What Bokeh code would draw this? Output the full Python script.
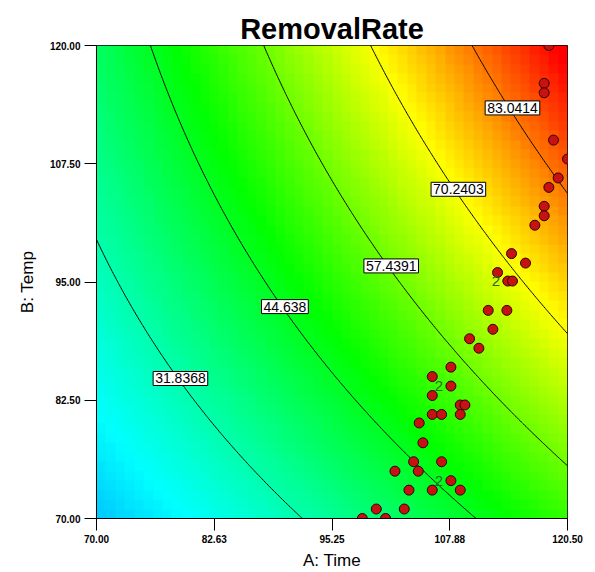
import numpy as np
from bokeh.plotting import figure
from bokeh.models import (Range1d, LinearColorMapper, Label, FixedTicker,
                          CustomJSTickFormatter)
from bokeh.embed import file_html
from bokeh.resources import INLINE
from bokeh.core.properties import value

# ---------------- data ----------------
title_text = "RemovalRate"
x_title = "A: Time"
y_title = "B: Temp"

x_ticks = [70.0, 82.625, 95.25, 107.875, 120.5]
x_tick_labels = ["70.00", "82.63", "95.25", "107.88", "120.50"]
y_ticks = [70.0, 82.5, 95.0, 107.5, 120.0]
y_tick_labels = ["70.00", "82.50", "95.00", "107.50", "120.00"]

contour_levels = [31.8368, 44.638, 57.4391, 70.2403, 83.0414]
contour_texts = ["31.8368", "44.638", "57.4391", "70.2403", "83.0414"]

# points (Time, Temp, level)
c_time = [70.0, 79.0, 91.9,
          75.9, 80.1, 90.2, 97.2, 103.3, 110.6,
          87.9, 96.2, 101.6, 111.2, 120.5,
          99.4, 108.8, 114.7, 120.5,
          110.1, 111.9, 114.6, 120.5]
c_temp = [99.3, 84.8, 70.0,
          120.0, 108.9, 92.4, 82.7, 76.8, 70.0,
          120.0, 103.6, 96.7, 84.9, 75.9,
          120.0, 104.8, 95.5, 89.2,
          120.0, 117.0, 113.4, 104.4]
c_value = [31.8368] * 3 + [44.638] * 6 + [57.4391] * 5 + [70.2403] * 4 + [83.0414] * 4

# where the contour labels sit
label_time = [79.0, 90.2, 101.6, 108.8, 114.6]
label_temp = [84.8, 92.4, 96.7, 104.8, 113.4]

# design points
pt_time = [118.5, 118.0, 118.0, 119.0, 120.5, 119.5, 118.5, 118.0, 118.0, 117.0,
           114.5, 116.0, 113.0, 114.1, 114.6, 112.0, 114.0, 112.5, 110.0, 111.0,
           108.0, 106.0, 108.0, 106.0, 109.0, 109.5, 109.0, 106.0, 107.0, 104.6,
           105.0, 104.0, 107.0, 102.0, 104.5, 108.0, 103.5, 106.0, 109.0, 100.0,
           103.0, 98.5, 101.0]
pt_temp = [120.0, 116.0, 115.0, 110.0, 108.0, 106.0, 105.0, 103.0, 102.0, 101.0,
           98.0, 97.0, 96.0, 95.1, 95.1, 92.0, 92.0, 90.0, 89.0, 88.0,
           86.0, 85.0, 84.0, 83.0, 82.0, 82.0, 81.0, 81.0, 81.0, 80.1,
           78.0, 76.0, 76.0, 75.0, 75.0, 74.0, 73.0, 73.0, 73.0, 71.0,
           71.0, 70.0, 70.0]

# replicated points
rep_time = [114.1, 108.0, 108.0]
rep_temp = [95.1, 84.0, 74.0]
rep_count = ["2", "2", "2"]

# ---------------- quadratic response surface fitted to contour points ----------------
def coded(t, b):
    return (np.asarray(t, float) - 95.25) / 25.25, (np.asarray(b, float) - 95.0) / 25.0

def design(a, b):
    return np.column_stack([np.ones_like(a), a, b, a * b, a * a, b * b])

ca, cb = coded(c_time, c_temp)
coef, *_ = np.linalg.lstsq(design(ca, cb), np.asarray(c_value), rcond=None)

def surface(t, b):
    a, bb = coded(t, b)
    shp = np.shape(a)
    return (design(a.ravel(), bb.ravel()) @ coef).reshape(shp)

X0, X1, Y0, Y1 = 70.0, 120.5, 70.0, 120.0

# coarse grid for the colour image (cell centres)
nc = 50
gx = X0 + (np.arange(nc) + 0.5) * (X1 - X0) / nc
gy = Y0 + (np.arange(nc) + 0.5) * (Y1 - Y0) / nc
GX, GY = np.meshgrid(gx, gy)
Zimg = surface(GX, GY)

# fine grid for contour lines
fx = np.linspace(X0, X1, 300)
fy = np.linspace(Y0, Y1, 300)
FX, FY = np.meshgrid(fx, fy)
Zfine = surface(FX, FY)

# palette blue -> cyan -> green -> yellow -> red
stops = [(0, 0, 255), (0, 255, 255), (0, 255, 0), (255, 255, 0), (255, 0, 0)]
palette = []
N = 256
for i in range(N):
    t = i / (N - 1) * (len(stops) - 1)
    k = min(int(t), len(stops) - 2)
    f = t - k
    c = [round(stops[k][j] + (stops[k + 1][j] - stops[k][j]) * f) for j in range(3)]
    palette.append("#%02x%02x%02x" % tuple(c))
mapper = LinearColorMapper(palette=palette, low=1, high=94)

# ---------------- figure ----------------
p = figure(width=587, height=572, x_range=Range1d(X0, X1), y_range=Range1d(Y0, Y1),
           output_backend="svg", toolbar_location=None,
           min_border_left=96, min_border_right=20, min_border_top=45, min_border_bottom=54)
p.title.text = title_text
p.title.align = "center"
p.title.text_font = "Liberation Sans"
p.title.text_font_size = "29px"
p.title.text_font_style = "bold"
p.title.text_color = "black"
p.title.standoff = 2
p.xgrid.visible = False
p.ygrid.visible = False
p.outline_line_color = "black"
p.outline_line_width = 1
p.background_fill_color = "white"

p.image(image=[Zimg], x=X0, y=Y0, dw=X1 - X0, dh=Y1 - Y0, color_mapper=mapper)
p.contour(x=fx, y=fy, z=Zfine, levels=contour_levels, fill_color=None,
          line_color="black", line_width=1)

p.scatter(pt_time, pt_temp, marker="circle", size=10, fill_color="#c81212",
          line_color="#2a0303", line_width=1)
p.text(x=rep_time, y=rep_temp, text=rep_count, x_offset=-12, text_align="center",
       text_baseline="middle", text_color="#2a6a2c", text_font_size="15px",
       text_font=value("Liberation Sans"))

for lx, ly, lt in zip(label_time, label_temp, contour_texts):
    p.add_layout(Label(x=lx, y=ly, text=lt, text_align="center", text_baseline="middle",
                       text_font="Liberation Sans", text_font_size="14px", text_color="black",
                       background_fill_color="white", border_line_color="black",
                       border_line_width=1, padding=2))

fmt_code = """
let best = 0;
for (let i = 0; i < tvals.length; i++) {
  if (Math.abs(tvals[i] - tick) < Math.abs(tvals[best] - tick)) best = i;
}
return tlabels[best];
"""
p.xaxis.ticker = FixedTicker(ticks=x_ticks)
p.yaxis.ticker = FixedTicker(ticks=y_ticks)
p.xaxis.formatter = CustomJSTickFormatter(args=dict(tvals=x_ticks, tlabels=x_tick_labels), code=fmt_code)
p.yaxis.formatter = CustomJSTickFormatter(args=dict(tvals=y_ticks, tlabels=y_tick_labels), code=fmt_code)

for ax in (p.xaxis, p.yaxis):
    ax.major_tick_out = 12
    ax.major_tick_in = 0
    ax.minor_tick_line_color = None
    ax.axis_line_color = "black"
    ax.major_tick_line_color = "black"
    ax.major_label_text_font = "Liberation Sans"
    ax.major_label_text_font_size = "10px"
    ax.major_label_text_font_style = "bold"
    ax.major_label_text_color = "black"
    ax.axis_label_text_font = "Liberation Sans"
    ax.axis_label_text_font_size = "17px"
    ax.axis_label_text_font_style = "normal"
    ax.axis_label_text_color = "black"
    ax.major_label_standoff = 4

p.xaxis.axis_label = x_title
p.yaxis.axis_label = y_title
p.yaxis.major_label_orientation = "horizontal"
p.xaxis.axis_label_standoff = 5
p.yaxis.axis_label_standoff = 10

open("out.html", "w").write(file_html(p, INLINE))
